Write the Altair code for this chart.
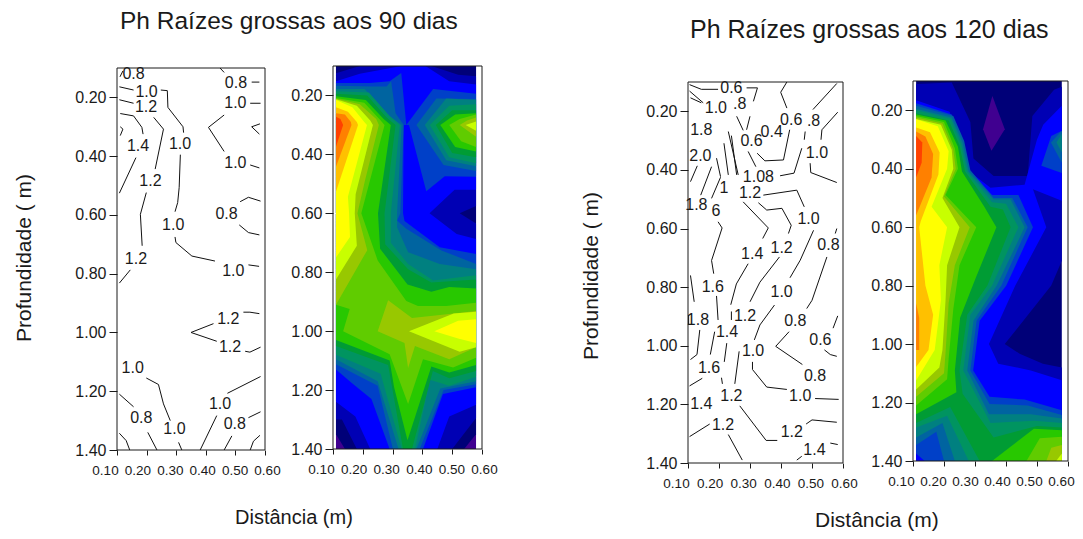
import altair as alt
import pandas as pd

FONT = "Liberation Sans"
INK = "#1a1a1a"
PALETTE = ["#400090", "#000078", "#0000b4", "#0000ff", "#0040c8", "#0064a0", "#008080", "#009460",
           "#009c34", "#28c800", "#60cc00", "#98c800", "#c8ff00", "#ffff00", "#ffc000", "#ff8000", "#ff4000"]

# ---------- filled contour regions, (colour level, outline in metres) ----------
FILL_90 = [
 (0, [(.11,.10),(.58,.10),(.58,1.40),(.11,1.40)]),
 (1, [(.11,.10),(.58,.10),(.58,1.35),(.54,1.40),(.14,1.40),(.11,1.35)]),
 (2, [(.11,.125),(.19,.10),(.43,.10),(.52,.13),(.58,.135),(.58,.575),(.525,.60),(.58,.635),(.58,1.295),(.50,1.40),(.18,1.40),(.13,1.30),(.11,1.30)]),
 (3, [(.11,.152),(.19,.126),(.33,.10),(.41,.10),(.49,.152),(.58,.163),(.58,.52),(.508,.52),(.424,.60),(.515,.67),(.58,.687),(.58,1.25),(.49,1.29),(.45,1.40),(.225,1.40),(.175,1.29),(.11,1.24)]),
 (4, [(.11,.158),(.223,.158),(.29,.152),(.329,.124),(.346,.30),(.436,.178),(.58,.194),(.58,.476),(.475,.474),(.413,.525),(.355,.30),(.337,.30),(.335,.60),(.34,.626),(.458,.715),(.58,.738),(.58,1.19),(.469,1.213),(.402,1.40),(.29,1.40),(.229,1.23),(.162,1.175),(.11,1.13)]),
 (5, [(.11,.167),(.23,.17),(.28,.17),(.295,.152),(.31,.26),(.337,.30),(.326,.60),(.315,.624),(.346,.652),(.464,.726),(.58,.772),(.58,1.18),(.471,1.20),(.391,1.40),(.301,1.40),(.25,1.185),(.11,1.112)]),
 (5, [(.38,.30),(.447,.21),(.58,.212),(.58,.456),(.471,.436)]),
 (6, [(.11,.178),(.206,.178),(.28,.262),(.33,.30),(.315,.60),(.315,.647),(.352,.732),(.458,.772),(.58,.79),(.58,1.17),(.46,1.195),(.38,1.40),(.32,1.40),(.25,1.17),(.11,1.095)]),
 (6, [(.408,.30),(.48,.21),(.58,.215),(.58,.44),(.48,.42)]),
 (7, [(.11,.186),(.22,.19),(.29,.27),(.324,.30),(.294,.60),(.294,.70),(.352,.772),(.436,.828),(.58,.81),(.58,1.155),(.49,1.185),(.425,1.165),(.375,1.40),(.33,1.40),(.26,1.145),(.11,1.08)]),
 (7, [(.425,.30),(.49,.235),(.58,.23),(.58,.43),(.49,.41)]),
 (8, [(.11,.194),(.215,.20),(.28,.275),(.31,.30),(.273,.60),(.275,.705),(.352,.79),(.43,.835),(.58,.825),(.58,1.135),(.49,1.16),(.435,1.135),(.365,1.40),(.335,1.40),(.285,1.115),(.11,1.05)]),
 (8, [(.445,.30),(.50,.25),(.58,.25),(.58,.41),(.50,.395)]),
 (9, [(.11,.203),(.21,.215),(.27,.28),(.294,.30),(.251,.60),(.258,.72),(.35,.842),(.43,.866),(.49,.85),(.58,.855),(.58,1.115),(.49,1.14),(.43,1.12),(.35,1.37),(.305,1.19),(.29,1.10),(.11,1.03)]),
 (9, [(.46,.30),(.51,.265),(.58,.26),(.58,.39),(.51,.375)]),
 (10, [(.11,.209),(.205,.225),(.26,.285),(.273,.30),(.195,.60),(.25,.76),(.346,.898),(.385,.915),(.48,.915),(.58,.904),(.58,1.09),(.503,1.123),(.402,1.095),(.352,1.247),(.29,1.078),(.134,1.0),(.156,.925),(.11,.91)]),
 (10, [(.49,.30),(.525,.28),(.58,.265),(.58,.375),(.53,.355)]),
 (11, [(.11,.211),(.19,.23),(.245,.28),(.254,.30),(.206,.495),(.182,.60),(.215,.725),(.195,.76),(.11,.91)]),
 (11, [(.525,.30),(.55,.285),(.58,.275),(.58,.34)]),
 (11, [(.285,.895),(.25,1.0),(.34,1.04),(.352,1.125),(.375,1.05),(.49,1.095),(.58,1.055),(.58,.932),(.505,.94),(.365,.955)]),
 (12, [(.11,.2125),(.18,.235),(.225,.285),(.234,.30),(.176,.535),(.173,.60),(.18,.71),(.11,.825)]),
 (12, [(.545,.30),(.58,.288),(.58,.32)]),
 (12, [(.355,1.0),(.505,.94),(.58,.934),(.58,1.055),(.525,1.07)]),
 (13, [(.11,.215),(.165,.24),(.205,.29),(.214,.30),(.15,.544),(.154,.60),(.157,.68),(.11,.75)]),
 (13, [(.44,1.0),(.52,.965),(.58,.96),(.58,1.04),(.52,1.025)]),
 (14, [(.11,.24),(.15,.255),(.18,.29),(.184,.30),(.11,.527)]),
 (15, [(.11,.26),(.14,.265),(.16,.29),(.162,.30),(.11,.442)]),
 (16, [(.11,.272),(.125,.28),(.134,.30),(.11,.374)]),
]
FILL_120 = [
 (1, [(.11,.10),(.58,.10),(.58,1.40),(.11,1.40)]),
 (0, [(.356,.151),(.326,.265),(.353,.339),(.396,.265)]),
 (2, [(.11,.11),(.225,.105),(.285,.24),(.295,.365),(.36,.425),(.47,.425),(.485,.22),(.555,.13),(.58,.12),(.58,.715),(.546,.80),(.396,1.0),(.444,1.033),(.519,1.067),(.58,1.08),(.58,1.40),(.11,1.40)]),
 (3, [(.11,.166),(.218,.205),(.25,.30),(.27,.40),(.35,.465),(.46,.455),(.50,.30),(.52,.25),(.58,.185),(.58,.51),(.487,.47),(.53,.60),(.43,.80),(.345,1.0),(.375,1.067),(.48,1.09),(.58,1.124),(.58,1.40),(.11,1.40)]),
 (4, [(.11,.176),(.225,.215),(.26,.30),(.277,.40),(.355,.49),(.44,.49),(.487,.60),(.401,.80),(.315,.92),(.294,1.09),(.347,1.18),(.46,1.19),(.58,1.226),(.58,1.40),(.138,1.40),(.11,1.374)]),
 (4, [(.514,.39),(.546,.288),(.58,.27),(.58,.415)]),
 (5, [(.11,.185),(.23,.22),(.265,.305),(.285,.405),(.36,.50),(.42,.50),(.47,.60),(.385,.80),(.305,.92),(.285,1.09),(.347,1.205),(.47,1.21),(.58,1.243),(.58,1.40),(.20,1.40),(.175,1.30),(.11,1.345)]),
 (5, [(.545,.31),(.58,.27),(.58,.38)]),
 (6, [(.11,.195),(.225,.225),(.26,.31),(.28,.41),(.36,.505),(.415,.505),(.46,.60),(.37,.80),(.295,.92),(.275,1.09),(.345,1.24),(.48,1.24),(.58,1.255),(.58,1.40),(.235,1.40),(.195,1.27),(.11,1.32)]),
 (6, [(.563,.31),(.58,.28),(.58,.345)]),
 (7, [(.11,.20),(.222,.23),(.255,.315),(.275,.41),(.355,.515),(.40,.52),(.44,.60),(.355,.80),(.285,.90),(.262,1.09),(.35,1.27),(.49,1.262),(.58,1.27),(.58,1.40),(.28,1.40),(.21,1.245),(.11,1.285)]),
 (8, [(.11,.21),(.215,.235),(.25,.32),(.268,.41),(.35,.53),(.39,.54),(.415,.60),(.34,.80),(.275,.90),(.25,1.09),(.26,1.17),(.36,1.32),(.50,1.28),(.58,1.285),(.58,1.40),(.315,1.40),(.22,1.215),(.11,1.27)]),
 (9, [(.11,.215),(.205,.235),(.245,.325),(.258,.41),(.33,.53),(.369,.60),(.30,.78),(.252,.91),(.235,1.09),(.24,1.165),(.11,1.24)]),
 (9, [(.355,1.40),(.49,1.29),(.58,1.295),(.58,1.40)]),
 (10, [(.11,.22),(.20,.24),(.235,.33),(.245,.40),(.205,.49),(.304,.60),(.25,.73),(.23,.88),(.215,1.05),(.21,1.12),(.11,1.21)]),
 (10, [(.466,1.40),(.509,1.322),(.58,1.317),(.58,1.40)]),
 (11, [(.11,.225),(.195,.245),(.23,.335),(.238,.40),(.20,.495),(.283,.60),(.235,.73),(.215,.86),(.205,1.03),(.20,1.10),(.11,1.18)]),
 (11, [(.53,1.40),(.546,1.355),(.58,1.345),(.58,1.40)]),
 (12, [(.11,.23),(.19,.25),(.225,.335),(.23,.40),(.195,.50),(.25,.60),(.21,.73),(.205,.85),(.195,1.02),(.185,1.08),(.11,1.155)]),
 (12, [(.562,1.40),(.58,1.374),(.58,1.40)]),
 (13, [(.11,.231),(.18,.255),(.215,.34),(.21,.40),(.16,.53),(.21,.60),(.185,.73),(.19,.85),(.17,1.02),(.11,1.125)]),
 (14, [(.11,.259),(.155,.275),(.186,.345),(.182,.42),(.125,.58),(.12,.60),(.14,.80),(.165,.90),(.15,1.02),(.11,1.078)]),
 (15, [(.11,.273),(.14,.29),(.165,.35),(.16,.43),(.11,.56)]),
 (15, [(.11,.86),(.12,.91),(.12,1.02),(.11,1.02)]),
 (16, [(.11,.288),(.13,.31),(.128,.38),(.11,.43)]),
]

# ---------- contour lines ----------
LINES_90 = [
 [(.11,.13),(.12,.11)], [(.108,.164),(.156,.175)],
 [(.248,.175),(.27,.177),(.272,.234),(.323,.30),(.325,.32)],
 [(.314,.395),(.31,.507),(.305,.558),(.296,.589)],
 [(.296,.675),(.299,.694),(.353,.74),(.431,.757)], [(.544,.77),(.58,.775)],
 [(.108,.208),(.156,.22)], [(.224,.268),(.257,.308),(.229,.444)],
 [(.199,.524),(.179,.598),(.185,.705)], [(.145,.787),(.108,.832)],
 [(.111,.255),(.156,.263),(.184,.302),(.188,.325)], [(.111,.30),(.12,.308),(.111,.33)],
 [(.164,.405),(.108,.526)], [(.448,.10),(.462,.115)], [(.555,.148),(.581,.148)],
 [(.55,.22),(.585,.22)], [(.462,.26),(.409,.302),(.462,.384)], [(.55,.43),(.581,.44)],
 [(.583,.29),(.555,.30),(.581,.325)], [(.516,.555),(.544,.54),(.585,.553)],
 [(.513,.634),(.544,.66),(.581,.668)], [(.527,.931),(.549,.931),(.581,.936)],
 [(.426,.97),(.35,1.0),(.437,1.03)], [(.533,1.064),(.549,1.067),(.585,1.05)],
 [(.108,1.21),(.156,1.253)], [(.199,1.155),(.24,1.177),(.257,1.243),(.28,1.30)],
 [(.308,1.374),(.319,1.40)], [(.204,1.34),(.235,1.40)],
 [(.108,1.343),(.131,1.368),(.143,1.40)], [(.437,1.283),(.381,1.40)],
 [(.473,1.207),(.585,1.15)], [(.544,1.29),(.585,1.27)], [(.488,1.352),(.462,1.40)],
 [(.583,1.35),(.561,1.37),(.55,1.40)],
]
LINES_120 = [
 [(.105,.109),(.143,.125),(.197,.125)], [(.289,.12),(.324,.12),(.311,.166)],
 [(.105,.131),(.149,.171)], [(.108,.154),(.143,.171)], [(.419,.10),(.399,.135),(.419,.189)],
 [(.58,.105),(.503,.194)], [(.583,.203),(.532,.263),(.529,.297)], [(.478,.269),(.475,.297)],
 [(.467,.326),(.442,.411),(.397,.42)], [(.494,.377),(.496,.409),(.58,.443)],
 [(.428,.263),(.408,.366),(.348,.369),(.323,.343)], [(.294,.337),(.319,.389)],
 [(.257,.217),(.278,.265)], [(.30,.217),(.289,.263)], [(.23,.269),(.262,.417)],
 [(.216,.309),(.23,.417)], [(.192,.36),(.205,.423)], [(.24,.283),(.257,.417)],
 [(.13,.386),(.108,.44)], [(.176,.389),(.141,.486)], [(.205,.425),(.176,.497)],
 [(.278,.509),(.359,.598),(.341,.634)], [(.294,.72),(.256,.789),(.238,.86)],
 [(.327,.512),(.354,.537),(.403,.531),(.433,.589),(.424,.617)],
 [(.343,.486),(.451,.469),(.475,.526)], [(.197,.577),(.21,.598),(.176,.709),(.183,.754)],
 [(.505,.606),(.462,.708),(.429,.768)], [(.395,.697),(.332,.783),(.30,.85)],
 [(.548,.697),(.50,.845),(.483,.873)], [(.58,.60),(.575,.617)],
 [(.108,.76),(.12,.85)], [(.192,.83),(.197,.912)],
 [(.102,.895),(.102,.929)], [(.138,.946),(.129,1.03),(.108,1.047)], [(.186,.952),(.172,1.03)],
 [(.24,.883),(.24,.912)], [(.225,.991),(.217,1.055)],
 [(.379,.861),(.332,.929),(.314,.98)], [(.265,1.019),(.251,1.13)],
 [(.426,.952),(.383,1.002),(.469,1.064)], [(.54,1.014),(.559,1.03),(.58,1.036)],
 [(.583,.898),(.568,.94)], [(.308,1.055),(.308,1.081),(.354,1.141),(.419,1.149)],
 [(.51,1.18),(.586,1.183)], [(.267,1.205),(.352,1.323),(.388,1.323)],
 [(.481,1.267),(.50,1.253),(.58,1.261)], [(.105,1.31),(.17,1.267)],
 [(.23,1.303),(.275,1.39)], [(.451,1.39),(.467,1.377)], [(.559,1.332),(.583,1.337)],
 [(.105,1.137),(.146,1.111)], [(.208,1.109),(.211,1.13)],
]

# ---------- contour labels (text, x, y) ----------
LABELS_90 = [
 ("0.8",.156,.12),("0.8",.502,.15),("1.0",.20,.18),("1.0",.50,.22),("1.2",.198,.232),("1.4",.171,.367),
 ("1.0",.313,.36),("1.0",.50,.424),("1.2",.213,.486),("0.8",.47,.598),("1.0",.29,.634),("1.2",.164,.75),
 ("1.0",.493,.79),("1.2",.476,.953),("1.2",.482,1.048),("1.0",.153,1.12),("0.8",.182,1.29),
 ("1.0",.294,1.33),("1.0",.448,1.245),("0.8",.498,1.31),
]
LABELS_120 = [
 ("0.6",.24,.12),("1.0",.19,.19),(".8",.267,.175),("1.8",.143,.263),("0.6",.305,.303),("0.4",.37,.272),
 ("0.6",.433,.229),(".8",.505,.234),("2.0",.14,.351),("1.0",.516,.343),("1.08",.327,.425),("1",.216,.463),
 ("1.2",.30,.48),("1.8",.127,.52),("6",.19,.54),("1.0",.489,.566),("1.4",.307,.686),("1.2",.402,.665),
 ("0.8",.553,.657),("1.6",.18,.80),("1.0",.402,.817),("1.8",.132,.912),("1.2",.284,.897),("0.8",.446,.916),
 ("1.4",.226,.954),("0.6",.527,.98),("1.0",.31,1.019),("1.6",.168,1.075),("0.8",.51,1.104),("1.2",.24,1.171),
 ("1.0",.462,1.171),("1.4",.143,1.197),("1.2",.213,1.269),("1.2",.435,1.295),("1.4",.508,1.355),
]

X_TICKS = [0.10, 0.20, 0.30, 0.40, 0.50, 0.60]
Y_TICKS = [0.20, 0.40, 0.60, 0.80, 1.00, 1.20, 1.40]
X_DOMAIN = [0.10, 0.60]
Y_DOMAIN = [0.10, 1.40]
W, H = 1067, 523


def sx(rng):
    return alt.Scale(domain=X_DOMAIN, range=rng, nice=False, zero=False)


def sy(rng):
    return alt.Scale(domain=Y_DOMAIN, range=rng, nice=False, zero=False)


def frame(xr, yr, lab_xr):
    box = pd.DataFrame({"x": [X_DOMAIN[0]], "x2": [X_DOMAIN[1]], "y": [Y_DOMAIN[0]], "y2": [Y_DOMAIN[1]]})
    ticks = alt.Chart(box).mark_rect(fill="transparent", stroke=INK, strokeWidth=1).encode(
        x=alt.X("x:Q", scale=sx(xr), axis=alt.Axis(orient="bottom", values=X_TICKS, labels=False, domain=False, grid=False, title=None,
                                                   tickColor=INK, tickSize=5, offset=yr[1] - H)),
        x2="x2:Q",
        y=alt.Y("y:Q", scale=sy(yr), axis=alt.Axis(orient="left", values=Y_TICKS, format=".2f", domain=False, grid=False, title=None,
                                                   tickColor=INK, tickSize=8, offset=-xr[0], labelFont=FONT,
                                                   labelFontSize=16, labelColor=INK, labelPadding=3, labelBound=False,
                                                   labelFlush=False)),
        y2="y2:Q",
    )
    labs = alt.Chart(box).mark_rect(opacity=0).encode(
        x=alt.X("x:Q", scale=sx(lab_xr), axis=alt.Axis(orient="bottom", values=X_TICKS, format=".2f", domain=False, ticks=False, grid=False,
                                                       title=None, labelFont=FONT, labelFontSize=13.5, labelColor=INK,
                                                       labelPadding=13, labelOverlap=False, labelFlush=False,
                                                       labelBound=False, offset=yr[1] - H)),
        x2="x2:Q",
        y=alt.Y("y:Q", scale=sy(yr), axis=None),
        y2="y2:Q",
    )
    return [ticks, labs]


def fills(polys, xr, yr):
    rows = []
    for p, (lev, pts) in enumerate(polys):
        for i, (x, y) in enumerate(pts):
            rows.append({"part": p, "lev": lev, "i": i, "x": x, "y": y})
    return alt.Chart(pd.DataFrame(rows)).mark_line(strokeWidth=0, clip=False).encode(
        x=alt.X("x:Q", scale=sx(xr), axis=None),
        y=alt.Y("y:Q", scale=sy(yr), axis=None),
        fill=alt.Fill("lev:O", scale=alt.Scale(domain=list(range(len(PALETTE))), range=PALETTE), legend=None),
        detail="part:N",
        order="i:Q",
    )


def contours(lines, labels, xr, yr):
    rows = []
    for p, pts in enumerate(lines):
        for i, (x, y) in enumerate(pts):
            rows.append({"part": p, "i": i, "x": x, "y": y})
    ln = alt.Chart(pd.DataFrame(rows)).mark_line(color="#111111", strokeWidth=1).encode(
        x=alt.X("x:Q", scale=sx(xr), axis=None),
        y=alt.Y("y:Q", scale=sy(yr), axis=None),
        detail="part:N",
        order="i:Q",
    )
    tx = alt.Chart(pd.DataFrame(labels, columns=["t", "x", "y"])).mark_text(
        font=FONT, fontSize=16, color=INK, align="center", baseline="middle").encode(
        x=alt.X("x:Q", scale=sx(xr), axis=None),
        y=alt.Y("y:Q", scale=sy(yr), axis=None),
        text="t:N",
    )
    return [ln, tx]


def caption(text, x, y, size, angle=0, align="left"):
    return alt.Chart(pd.DataFrame({"t": [text]})).mark_text(
        font=FONT, fontSize=size, color=INK, align=align, baseline="alphabetic", angle=angle).encode(
        x=alt.value(x), y=alt.value(y), text="t:N")


P1 = ([109, 257], [60, 442], [97, 259])
P2 = ([325, 474], [58, 441], [313, 476])
P3 = ([680, 835], [74, 455], [668, 836])
P4 = ([905, 1060], [73, 453], [893, 1053])

layers = []
layers += [fills(FILL_90, P2[0], P2[1]), fills(FILL_120, P4[0], P4[1])]
layers += contours(LINES_90, LABELS_90, P1[0], P1[1])
layers += contours(LINES_120, LABELS_120, P3[0], P3[1])
for p in (P1, P2, P3, P4):
    layers += frame(*p)
layers += [
    caption("Ph Raízes grossas aos 90 dias", 112, 21, 24.5),
    caption("Ph Raízes grossas aos 120 dias", 682, 30, 25),
    caption("Profundidade ( m)", 23, 250, 21, angle=270, align="center"),
    caption("Profundidade ( m)", 590, 268, 21, angle=270, align="center"),
    caption("Distância (m)", 227, 516, 20),
    caption("Distância  (m)", 807, 519, 21),
]

chart = alt.layer(*layers).resolve_scale(x="independent", y="independent", fill="independent").properties(
    width=W, height=H, padding=0, autosize=alt.AutoSizeParams(type="none")
).configure_view(stroke=None)

chart.save("out.html", embed_options={"renderer": "svg", "actions": False})
